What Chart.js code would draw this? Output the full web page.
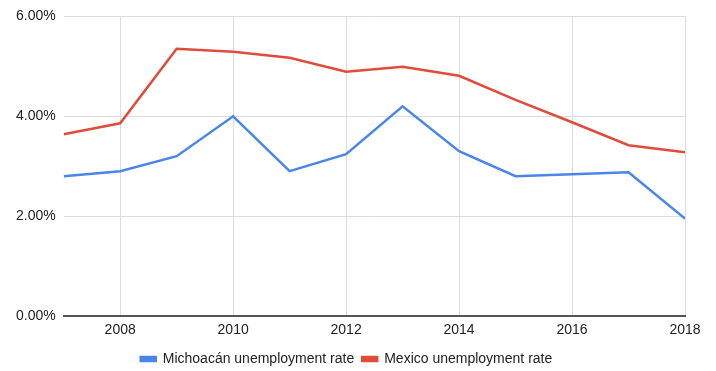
<!DOCTYPE html>
<html>
<head>
<meta charset="utf-8">
<script src="https://cdn.jsdelivr.net/npm/chart.js@4.4.1/dist/chart.umd.min.js"></script>
<style>
  html, body { margin: 0; padding: 0; background: #fff; }
  #wrap { width: 716px; height: 371px; }
</style>
</head>
<body>
<div id="wrap"><canvas id="c" width="716" height="371"></canvas></div>
<script>
const years = [2007, 2008, 2009, 2010, 2011, 2012, 2013, 2014, 2015, 2016, 2017, 2018];
const michoacan = [2.80, 2.90, 3.20, 4.00, 2.90, 3.24, 4.20, 3.30, 2.80, 2.84, 2.88, 1.95];
const mexico = [3.64, 3.86, 5.35, 5.29, 5.17, 4.89, 4.99, 4.81, 4.33, 3.88, 3.42, 3.28];
const xTicks = [2008, 2010, 2012, 2014, 2016, 2018];
const yTicks = [0, 2, 4, 6];
const seriesNames = ['Michoacán unemployment rate', 'Mexico unemployment rate'];

const toPts = arr => years.map((y, i) => ({ x: y, y: arr[i] }));

Chart.defaults.font.family = '"Liberation Sans", Arial, sans-serif';
Chart.defaults.color = '#222';

new Chart(document.getElementById('c'), {
  type: 'line',
  data: {
    datasets: [
      { label: seriesNames[0], data: toPts(michoacan), borderColor: '#4a86e8', backgroundColor: '#4a86e8', borderWidth: 2.5, pointRadius: 0, tension: 0 },
      { label: seriesNames[1], data: toPts(mexico), borderColor: '#e04c3a', backgroundColor: '#e04c3a', borderWidth: 2.5, pointRadius: 0, tension: 0 }
    ]
  },
  options: {
    responsive: false,
    animation: false,
    layout: { padding: { left: 8, right: 31, top: 8, bottom: -5 } },
    plugins: {
      tooltip: { enabled: false },
      legend: {
        position: 'bottom',
        labels: { boxWidth: 15, boxHeight: 4, font: { size: 14 }, color: '#222', padding: 8 }
      }
    },
    scales: {
      x: {
        type: 'linear',
        min: 2007, max: 2018,
        afterBuildTicks: axis => { axis.ticks = xTicks.map(v => ({ value: v })); },
        ticks: { font: { size: 14, lineHeight: 1 }, color: '#222', maxRotation: 0, padding: 7, callback: v => String(v) },
        grid: { color: '#dcdcdc', lineWidth: 1, drawTicks: false },
        border: { display: true, color: '#555', width: 2 }
      },
      y: {
        min: 0, max: 6,
        afterBuildTicks: axis => { axis.ticks = yTicks.map(v => ({ value: v })); },
        ticks: { font: { size: 14 }, color: '#222', padding: 8, callback: v => v.toFixed(2) + '%' },
        grid: { color: '#dcdcdc', lineWidth: 1, drawTicks: false },
        border: { display: false }
      }
    }
  }
});
</script>
</body>
</html>
